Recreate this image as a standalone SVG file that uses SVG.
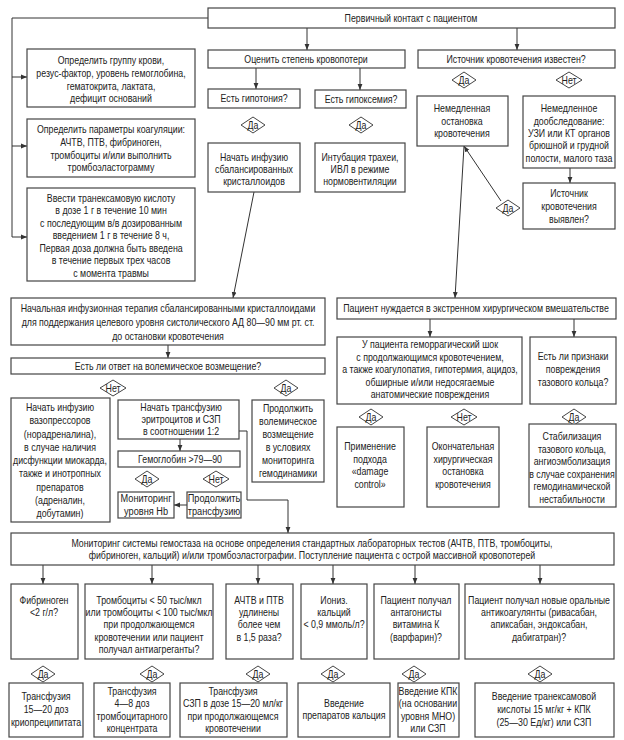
<svg xmlns="http://www.w3.org/2000/svg" width="624" height="740" viewBox="0 0 624 740">
<style>
.b{fill:#fff;stroke:#444;stroke-width:1.2}
.d{fill:#fff;stroke:#444;stroke-width:1}
text{font-family:"Liberation Sans",Arial,sans-serif;font-size:11px;fill:#222;text-anchor:middle;transform-box:fill-box;transform-origin:50% 50%;transform:scaleX(0.8)}
.c{fill:none;stroke:#333;stroke-width:1;marker-end:url(#a)}
.m{font-size:11.5px}
</style>
<defs>
<marker id="a" viewBox="0 0 10 10" refX="10" refY="5" markerWidth="6" markerHeight="6" orient="auto" markerUnits="userSpaceOnUse"><path d="M0,1 L10,5 L0,9z" fill="#333"/></marker>
</defs>
<rect width="624" height="740" fill="#fff"/>

<g id="connectors">
<path class="c" d="M208,18 H12 V237 H27"/>
<path class="c" d="M12,77 H27"/>
<path class="c" d="M12,146 H27"/>
<path class="c" d="M307,28 V50"/>
<path class="c" d="M517,28 V50"/>
<path class="c" d="M256,68 V89"/>
<path class="c" d="M360,68 V90"/>
<path class="c" d="M254,192 L233,298"/>
<path class="c" d="M570,168 V183"/>
<path class="c" d="M501,201 L464,146"/>
<path class="c" d="M464,146 L455,298"/>
<path class="c" d="M168,345 V358"/>
<path class="c" d="M180,439 V451"/>
<path class="c" d="M187,505 H174"/>
<path class="c" d="M239,431 H247 V500 H288 V533"/>
<path class="c" d="M430,319 V337"/>
<path class="c" d="M574,319 V337"/>
<path class="c" d="M43,565 V584"/>
<path class="c" d="M152,565 V584"/>
<path class="c" d="M258,565 V584"/>
<path class="c" d="M333,565 V584"/>
<path class="c" d="M415,565 V584"/>
<path class="c" d="M540,565 V584"/>
</g>

<g id="n_start"><rect class="b" x="208" y="8" width="407" height="20"/><text x="411" y="22">Первичный контакт с пациентом</text></g>

<g id="n_blood"><rect class="b" x="27" y="49" width="168" height="58"/>
<text><tspan x="111" y="64">Определить группу крови,</tspan><tspan x="111" y="77">резус-фактор, уровень гемоглобина,</tspan><tspan x="111" y="90">гематокрита, лактата,</tspan><tspan x="111" y="102">дефицит оснований</tspan></text></g>

<g id="n_coag"><rect class="b" x="27" y="119" width="168" height="58"/>
<text><tspan x="111" y="133">Определить параметры коагуляции:</tspan><tspan x="111" y="146">АЧТВ, ПТВ, фибриноген,</tspan><tspan x="111" y="159">тромбоциты и/или выполнить</tspan><tspan x="111" y="171">тромбоэластограмму</tspan></text></g>

<g id="n_txa"><rect class="b" x="27" y="188" width="168" height="93"/>
<text><tspan x="111" y="202">Ввести транексамовую кислоту</tspan><tspan x="111" y="214.5">в дозе 1 г в течение 10 мин</tspan><tspan x="111" y="227">с последующим в/в дозированным</tspan><tspan x="111" y="239.5">введением 1 г в течение 8 ч,</tspan><tspan x="111" y="252">Первая доза должна быть введена</tspan><tspan x="111" y="264.5">в течение первых трех часов</tspan><tspan x="111" y="277">с момента травмы</tspan></text></g>

<g id="n_assess"><rect class="b" x="208" y="50" width="197" height="18"/><text x="306" y="63">Оценить степень кровопотери</text></g>
<g id="n_source"><rect class="b" x="418" y="50" width="197" height="18"/><text x="516" y="63">Источник кровотечения известен?</text></g>

<g id="n_hypot"><rect class="b" x="208" y="89" width="92" height="19"/><text x="254" y="102">Есть гипотония?</text></g>
<g id="n_hypox"><rect class="b" x="315" y="90" width="91" height="18"/><text x="361" y="103">Есть гипоксемия?</text></g>

<g id="d1"><polygon class="d" points="241,125 253,117 265,125 253,133"/><text x="253" y="129">Да</text></g>
<g id="d2"><polygon class="d" points="349,125 361,117 373,125 361,133"/><text x="361" y="129">Да</text></g>
<g id="d3"><polygon class="d" points="452,80 464,72 476,80 464,88"/><text x="464" y="84">Да</text></g>
<g id="d4"><polygon class="d" points="556,80 569,72 582,80 569,88"/><text x="569" y="84">Нет</text></g>

<g id="n_cryst"><rect class="b" x="208" y="143" width="92" height="49"/>
<text><tspan x="254" y="161">Начать инфузию</tspan><tspan x="254" y="173">сбалансированных</tspan><tspan x="254" y="185">кристаллоидов</tspan></text></g>

<g id="n_intub"><rect class="b" x="315" y="143" width="90" height="49"/>
<text><tspan x="360" y="161">Интубация трахеи,</tspan><tspan x="360" y="173">ИВЛ в режиме</tspan><tspan x="360" y="185">нормовентиляции</tspan></text></g>

<g id="n_stop"><rect class="b" x="417" y="96" width="91" height="50"/>
<text><tspan x="462" y="112">Немедленная</tspan><tspan x="462" y="125">остановка</tspan><tspan x="462" y="137">кровотечения</tspan></text></g>

<g id="n_exam"><rect class="b" x="523" y="96" width="92" height="72"/>
<text><tspan x="569" y="112">Немедленное</tspan><tspan x="569" y="125">дообследование:</tspan><tspan x="569" y="137">УЗИ или КТ органов</tspan><tspan x="569" y="149">брюшной и грудной</tspan><tspan x="569" y="162">полости, малого таза</tspan></text></g>

<g id="n_found"><rect class="b" x="523" y="183" width="92" height="46"/>
<text><tspan x="569" y="197">Источник</tspan><tspan x="569" y="210">кровотечения</tspan><tspan x="569" y="223">выявлен?</tspan></text></g>

<g id="d5"><polygon class="d" points="496,208 508,200 520,208 508,216"/><text x="508" y="212">Да</text></g>

<g id="n_init"><rect class="b" x="11" y="298" width="314" height="47"/>
<text><tspan x="168" y="312">Начальная инфузионная терапия сбалансированными кристаллоидами</tspan><tspan x="168" y="326">для поддержания целевого уровня систолического АД 80—90 мм рт. ст.</tspan><tspan x="168" y="340">до остановки кровотечения</tspan></text></g>

<g id="n_resp"><rect class="b" x="11" y="358" width="314" height="16"/><text x="168" y="370">Есть ли ответ на волемическое возмещение?</text></g>

<g id="d6"><polygon class="d" points="100,388 113,380 126,388 113,396"/><text x="113" y="392">Нет</text></g>
<g id="d7"><polygon class="d" points="274,388 286,380 298,388 286,396"/><text x="286" y="392">Да</text></g>

<g id="n_vaso"><rect class="b" x="11" y="398" width="99" height="124"/>
<text><tspan x="60" y="411">Начать инфузию</tspan><tspan x="60" y="424.3">вазопрессоров</tspan><tspan x="60" y="437.6">(норадреналина),</tspan><tspan x="60" y="450.9">в случае наличия</tspan><tspan x="60" y="464.2">дисфункции миокарда,</tspan><tspan x="60" y="477.5">также и инотропных</tspan><tspan x="60" y="490.8">препаратов</tspan><tspan x="60" y="504.1">(адреналин,</tspan><tspan x="60" y="517.4">добутамин)</tspan></text></g>

<g id="n_transf"><rect class="b" x="118" y="400" width="121" height="39"/>
<text><tspan x="181" y="411">Начать трансфузию</tspan><tspan x="181" y="423">эритроцитов и СЗП</tspan><tspan x="181" y="435">в соотношении 1:2</tspan></text></g>

<g id="n_hb"><rect class="b" x="118" y="451" width="122" height="16"/><text x="180" y="463">Гемоглобин &gt;79—90</text></g>

<g id="d8"><polygon class="d" points="135,479 147,471 159,479 147,487"/><text x="147" y="483">Да</text></g>
<g id="d9"><polygon class="d" points="203,479 216,471 229,479 216,487"/><text x="216" y="483">Нет</text></g>

<g id="n_monhb"><rect class="b" x="118" y="492" width="56" height="26"/>
<text class="m"><tspan x="146" y="502">Мониторинг</tspan><tspan x="146" y="515">уровня Hb</tspan></text></g>

<g id="n_cont"><rect class="b" x="187" y="492" width="54" height="26"/>
<text class="m"><tspan x="214" y="502">Продолжить</tspan><tspan x="214" y="515">трансфузию</tspan></text></g>

<g id="n_contvol"><rect class="b" x="252" y="400" width="72" height="82"/>
<text><tspan x="288" y="412">Продолжить</tspan><tspan x="288" y="425">волемическое</tspan><tspan x="288" y="438">возмещение</tspan><tspan x="288" y="451">в условиях</tspan><tspan x="288" y="464">мониторинга</tspan><tspan x="288" y="477">гемодинамики</tspan></text></g>

<g id="n_surg"><rect class="b" x="337" y="298" width="279" height="21"/><text x="476" y="312">Пациент нуждается в экстренном хирургическом вмешательстве</text></g>

<g id="n_shock"><rect class="b" x="337" y="337" width="185" height="67"/>
<text><tspan x="430" y="348.5">У пациента геморрагический шок</tspan><tspan x="430" y="361">с продолжающимся кровотечением,</tspan><tspan x="430" y="373.5">а также коагулопатия, гипотермия, ацидоз,</tspan><tspan x="430" y="386">обширные и/или недосягаемые</tspan><tspan x="430" y="398.5">анатомические повреждения</tspan></text></g>

<g id="n_pelvis"><rect class="b" x="530" y="337" width="86" height="67"/>
<text><tspan x="573" y="360">Есть ли признаки</tspan><tspan x="573" y="373">повреждения</tspan><tspan x="573" y="386">тазового кольца?</tspan></text></g>

<g id="d10"><polygon class="d" points="359,417 371,409 383,417 371,425"/><text x="371" y="421">Да</text></g>
<g id="d11"><polygon class="d" points="451,417 464,409 477,417 464,425"/><text x="464" y="421">Нет</text></g>
<g id="d12"><polygon class="d" points="562,417 574,409 586,417 574,425"/><text x="574" y="421">Да</text></g>

<g id="n_dc"><rect class="b" x="337" y="427" width="67" height="80"/>
<text><tspan x="370" y="450">Применение</tspan><tspan x="370" y="463">подхода</tspan><tspan x="370" y="475">«damage</tspan><tspan x="370" y="488">control»</tspan></text></g>

<g id="n_final"><rect class="b" x="427" y="427" width="72" height="80"/>
<text><tspan x="463" y="450">Окончательная</tspan><tspan x="463" y="463">хирургическая</tspan><tspan x="463" y="475">остановка</tspan><tspan x="463" y="488">кровотечения</tspan></text></g>

<g id="n_stab"><rect class="b" x="529" y="424" width="87" height="83"/>
<text><tspan x="572" y="440">Стабилизация</tspan><tspan x="572" y="453">тазового кольца,</tspan><tspan x="572" y="465">ангиоэмболизация</tspan><tspan x="572" y="478">в случае сохранения</tspan><tspan x="572" y="490">гемодинамической</tspan><tspan x="572" y="503">нестабильности</tspan></text></g>

<g id="n_monitor"><rect class="b" x="11" y="533" width="603" height="32"/>
<text><tspan x="312" y="547">Мониторинг системы гемостаза на основе определения стандартных лабораторных тестов (АЧТВ, ПТВ, тромбоциты,</tspan><tspan x="312" y="559">фибриноген, кальций) и/или тромбоэластографии. Поступление пациента с острой массивной кровопотерей</tspan></text></g>

<g id="n_fib"><rect class="b" x="11" y="584" width="67" height="75"/>
<text><tspan x="44" y="604">Фибриноген</tspan><tspan x="44" y="616">&lt;2 г/л?</tspan></text></g>

<g id="n_plt"><rect class="b" x="85" y="584" width="128" height="75"/>
<text><tspan x="149" y="604">Тромбоциты &lt; 50 тыс/мкл</tspan><tspan x="149" y="616">или тромбоциты &lt; 100 тыс/мкл</tspan><tspan x="149" y="628.5">при продолжающемся</tspan><tspan x="149" y="641">кровотечении или пациент</tspan><tspan x="149" y="653">получал антиагреганты?</tspan></text></g>

<g id="n_aptt"><rect class="b" x="226" y="584" width="67" height="75"/>
<text><tspan x="259" y="604">АЧТВ и ПТВ</tspan><tspan x="259" y="616">удлинены</tspan><tspan x="259" y="628.5">более чем</tspan><tspan x="259" y="641">в 1,5 раза?</tspan></text></g>

<g id="n_ca"><rect class="b" x="301" y="584" width="66" height="75"/>
<text><tspan x="334" y="604">Иониз.</tspan><tspan x="334" y="616">кальций</tspan><tspan x="334" y="628.5">&lt; 0,9 ммоль/л?</tspan></text></g>

<g id="n_vka"><rect class="b" x="374" y="584" width="85" height="75"/>
<text><tspan x="416" y="604">Пациент получал</tspan><tspan x="416" y="616">антагонисты</tspan><tspan x="416" y="628.5">витамина К</tspan><tspan x="416" y="641">(варфарин)?</tspan></text></g>

<g id="n_noac"><rect class="b" x="465" y="584" width="149" height="75"/>
<text><tspan x="539" y="604">Пациент получал новые оральные</tspan><tspan x="539" y="616">антикоагулянты (ривасабан,</tspan><tspan x="539" y="628.5">апиксабан, эндоксабан,</tspan><tspan x="539" y="641">дабигатран)?</tspan></text></g>

<g id="d13"><polygon class="d" points="31,674 43,666 55,674 43,682"/><text x="43" y="678">Да</text></g>
<g id="d14"><polygon class="d" points="140,674 152,666 164,674 152,682"/><text x="152" y="678">Да</text></g>
<g id="d15"><polygon class="d" points="246,674 258,666 270,674 258,682"/><text x="258" y="678">Да</text></g>
<g id="d16"><polygon class="d" points="321,674 333,666 345,674 333,682"/><text x="333" y="678">Да</text></g>
<g id="d17"><polygon class="d" points="402,674 414,666 426,674 414,682"/><text x="414" y="678">Да</text></g>
<g id="d18"><polygon class="d" points="528,674 540,666 552,674 540,682"/><text x="540" y="678">Да</text></g>

<g id="n_cryo"><rect class="b" x="9" y="683" width="74" height="54"/>
<text><tspan x="46" y="700">Трансфузия</tspan><tspan x="46" y="713">15—20 доз</tspan><tspan x="46" y="726">криопреципитата</tspan></text></g>

<g id="n_pltc"><rect class="b" x="94" y="683" width="76" height="54"/>
<text><tspan x="132" y="695">Трансфузия</tspan><tspan x="132" y="707.5">4—8 доз</tspan><tspan x="132" y="720">тромбоцитарного</tspan><tspan x="132" y="732.5">концентрата</tspan></text></g>

<g id="n_ffp"><rect class="b" x="180" y="683" width="107" height="54"/>
<text><tspan x="233" y="695">Трансфузия</tspan><tspan x="233" y="707.5">СЗП в дозе 15—20 мл/кг</tspan><tspan x="233" y="720">при продолжающемся</tspan><tspan x="233" y="732.5">кровотечении</tspan></text></g>

<g id="n_cag"><rect class="b" x="298" y="683" width="92" height="54"/>
<text><tspan x="344" y="707">Введение</tspan><tspan x="344" y="719.5">препаратов кальция</tspan></text></g>

<g id="n_pcc"><rect class="b" x="398" y="683" width="61" height="54"/>
<text><tspan x="428" y="695">Введение КПК</tspan><tspan x="428" y="707.5">(на основании</tspan><tspan x="428" y="720">уровня МНО)</tspan><tspan x="428" y="732.5">или СЗП</tspan></text></g>

<g id="n_txa2"><rect class="b" x="475" y="683" width="139" height="54"/>
<text><tspan x="544" y="700">Введение транексамовой</tspan><tspan x="544" y="713">кислоты 15 мг/кг + КПК</tspan><tspan x="544" y="726">(25—30 Ед/кг) или СЗП</tspan></text></g>
</svg>
